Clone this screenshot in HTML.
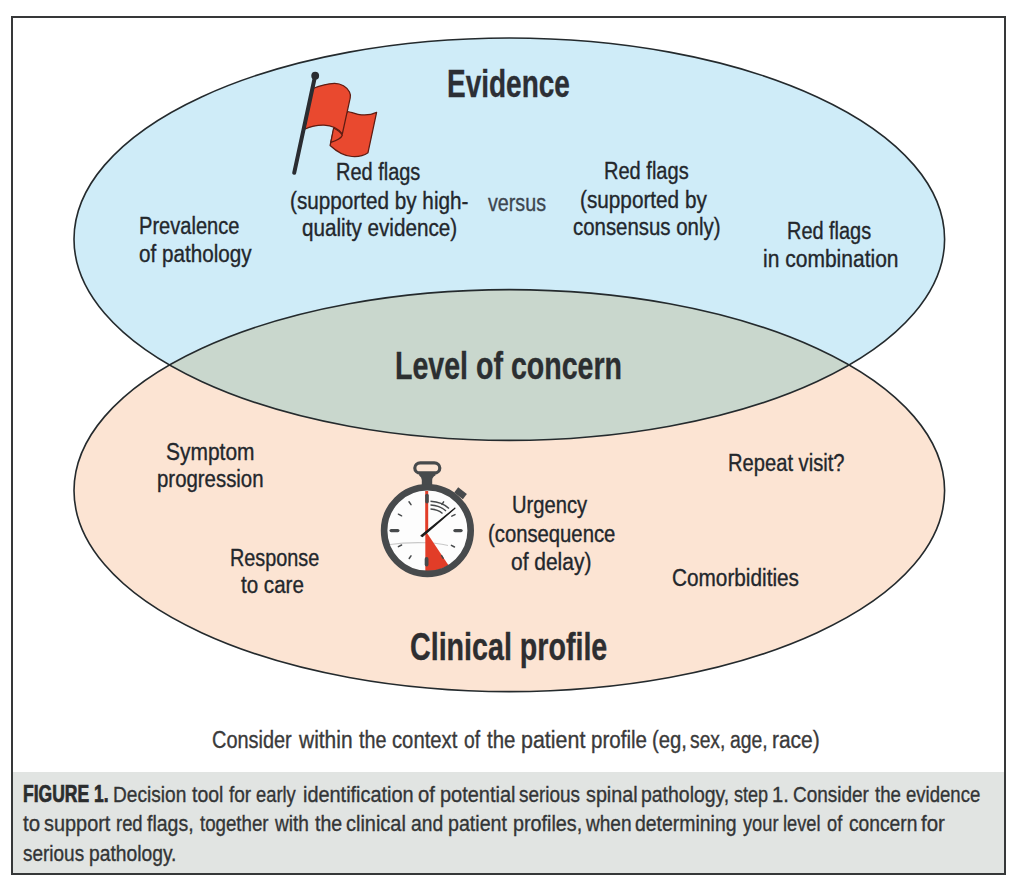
<!DOCTYPE html>
<html><head><meta charset="utf-8">
<style>
html,body{margin:0;padding:0;background:#fff;width:1022px;height:888px;overflow:hidden;}
body{position:relative;font-family:"Liberation Sans",sans-serif;}
.t{position:absolute;white-space:nowrap;transform-origin:0 0;font-family:"Liberation Sans",sans-serif;-webkit-text-stroke:0.35px currentColor;}
.t b{font-weight:700;}
#box{position:absolute;left:11px;top:16px;width:991px;height:855px;border:2px solid #363839;}
#capbg{position:absolute;left:13px;top:772px;width:991px;height:101px;background:#e1e4e2;}
svg{position:absolute;left:0;top:0;}
</style></head><body>
<div id="capbg"></div>
<div id="box"></div>
<svg width="1022" height="888" viewBox="0 0 1022 888">
<defs>
<clipPath id="cb"><ellipse cx="509.3" cy="239.2" rx="435.3" ry="201.2"/></clipPath>
</defs>
<ellipse cx="509.3" cy="490.6" rx="435.3" ry="201" fill="#fce4d3"/>
<ellipse cx="509.3" cy="239.2" rx="435.3" ry="201.2" fill="#cfecf8"/>
<ellipse cx="509.3" cy="490.6" rx="435.3" ry="201" fill="#c9d7cd" clip-path="url(#cb)"/>
<ellipse cx="509.3" cy="490.6" rx="435.3" ry="201" fill="none" stroke="#242a2d" stroke-width="1.6"/>
<ellipse cx="509.3" cy="239.2" rx="435.3" ry="201.2" fill="none" stroke="#242a2d" stroke-width="1.6"/>
<!-- FLAG -->
<g id="flag" stroke-linejoin="round">
<path d="M333.9,128.4 L330.1,145.5 C336,151 344,156 352,156.5 C358,157 364,155.5 368,152.7 L376.6,112.4 C371,115 364,115.5 358,114.3 C354,113.5 350.5,112 347.7,111.5 Z" fill="#e9492f" stroke="#5e1c12" stroke-width="1.25"/>
<path d="M333.6,128 C337.5,130 341,132.5 342.3,135.3 C341,139 336,140.8 330.8,142.4 Z" fill="#e9492f" stroke="#5e1c12" stroke-width="1.25"/>
<path d="M312.8,88.5 C319,86 327,83.5 334.4,83.3 C341,83.2 347,87 349.5,92 C350.5,94 350.6,96 350.2,98 L342.3,134 C338.5,129 332,125.5 324,125.2 C317,125 310,126.8 304.6,129.2 Z" fill="#e9492f" stroke="#5e1c12" stroke-width="1.25"/>
<line x1="315.1" y1="76" x2="294.2" y2="172.8" stroke="#2a2c31" stroke-width="4" stroke-linecap="round"/>
<circle cx="315.2" cy="75.7" r="3.9" fill="#2a2c31"/>
</g>
<!-- STOPWATCH -->
<g id="watch">
<rect x="414.8" y="462.8" width="25" height="10.4" rx="5.5" ry="5.2" fill="none" stroke="#474a4c" stroke-width="3.2"/>
<path d="M419.2,471.5 L435.4,471.5 L435.4,475.5 Q432.3,477 432.2,480 L432.2,487 L421.8,487 L421.8,480 Q421.7,477 419.2,475.5 Z" fill="#474a4c"/>
<rect x="455" y="490" width="11" height="6.5" fill="#474a4c" transform="rotate(38 460.5 493.3)"/>
<circle cx="427.4" cy="530.6" r="40.5" fill="#fdfdfd"/>
<path d="M388,544.8 C400,543 415,542.3 427,542.8 C437,543.2 444,544.5 448,545.5" fill="none" stroke="#c9c9c9" stroke-width="1.1"/>
<path d="M425.3,530.6 L425.3,571 A40.5,40.5 0 0 0 448.5,565.2 Z" fill="#e23d28"/>
<line x1="426.7" y1="491" x2="426.7" y2="532" stroke="#e23d28" stroke-width="3"/>
<g stroke="#474a4c" stroke-linecap="round">
<line x1="427" y1="495.6" x2="427" y2="501.8" stroke-width="3.6"/>
<line x1="426.6" y1="559" x2="426.6" y2="564.6" stroke-width="3.8"/>
<line x1="391.2" y1="530.6" x2="397.8" y2="530.6" stroke-width="3.4"/>
<line x1="455" y1="530.6" x2="461" y2="530.6" stroke-width="3.4"/>
</g>
<g stroke="#474a4c" stroke-width="1.5" stroke-linecap="round">
<line x1="409" y1="501.8" x2="411" y2="504.6"/>
<line x1="398.4" y1="514.2" x2="401.6" y2="515.8"/>
<line x1="398.4" y1="546.6" x2="401.6" y2="545"/>
<line x1="409.2" y1="558.5" x2="411" y2="555.8"/>
<line x1="443.2" y1="558.3" x2="441.6" y2="555.6"/>
<line x1="454.5" y1="547" x2="451.4" y2="545.3"/>
<line x1="455" y1="514.6" x2="451.8" y2="516.2"/>
<line x1="443.6" y1="501.8" x2="442" y2="504.4"/>
</g>
<g fill="none" stroke="#474a4c" stroke-width="1.4">
<path d="M430.5,501.2 C437.5,501.5 444.5,504 449,508.6"/>
<path d="M430.5,505 C436.5,505.3 442,507.3 446,511"/>
<path d="M430.5,509 C435.5,509.3 439.5,510.8 442.5,513.5"/>
</g>
<path d="M421,535.8 L454.9,508.2 L422.4,536.6 Z" fill="#1c1c1c" stroke="#1c1c1c" stroke-width="1.2" stroke-linejoin="round"/>
<circle cx="427.4" cy="530.6" r="43.3" fill="none" stroke="#474a4c" stroke-width="6.6"/>
</g>
</svg>
<div class="t" style="left:447.03px;top:64.50px;font-size:38px;line-height:38px;font-weight:700;color:#2c2f35;transform:scaleX(0.7366)">Evidence</div>
<div class="t" style="left:395.00px;top:346.80px;font-size:38px;line-height:38px;font-weight:700;color:#2c2f31;transform:scaleX(0.7517)">Level of concern</div>
<div class="t" style="left:410.05px;top:627.80px;font-size:38px;line-height:38px;font-weight:700;color:#2e2e30;transform:scaleX(0.7535)">Clinical profile</div>
<div class="t" style="left:336.40px;top:160.50px;font-size:23.5px;line-height:23.5px;font-weight:400;color:#23272c;transform:scaleX(0.8495)">Red flags</div>
<div class="t" style="left:289.92px;top:189.70px;font-size:23.5px;line-height:23.5px;font-weight:400;color:#23272c;transform:scaleX(0.8811)">(supported by high-</div>
<div class="t" style="left:302.12px;top:217.10px;font-size:23.5px;line-height:23.5px;font-weight:400;color:#23272c;transform:scaleX(0.8799)">quality evidence)</div>
<div class="t" style="left:487.60px;top:192.00px;font-size:23.5px;line-height:23.5px;font-weight:400;color:#3d4650;transform:scaleX(0.8377)">versus</div>
<div class="t" style="left:603.69px;top:160.30px;font-size:23.5px;line-height:23.5px;font-weight:400;color:#23272c;transform:scaleX(0.8526)">Red flags</div>
<div class="t" style="left:580.12px;top:189.00px;font-size:23.5px;line-height:23.5px;font-weight:400;color:#23272c;transform:scaleX(0.8825)">(supported by</div>
<div class="t" style="left:573.23px;top:216.20px;font-size:23.5px;line-height:23.5px;font-weight:400;color:#23272c;transform:scaleX(0.8685)">consensus only)</div>
<div class="t" style="left:138.99px;top:214.50px;font-size:23.5px;line-height:23.5px;font-weight:400;color:#23272c;transform:scaleX(0.8539)">Prevalence</div>
<div class="t" style="left:139.42px;top:243.30px;font-size:23.5px;line-height:23.5px;font-weight:400;color:#23272c;transform:scaleX(0.8787)">of pathology</div>
<div class="t" style="left:787.41px;top:220.40px;font-size:23.5px;line-height:23.5px;font-weight:400;color:#23272c;transform:scaleX(0.8474)">Red flags</div>
<div class="t" style="left:762.91px;top:248.10px;font-size:23.5px;line-height:23.5px;font-weight:400;color:#23272c;transform:scaleX(0.8946)">in combination</div>
<div class="t" style="left:165.61px;top:440.50px;font-size:23.5px;line-height:23.5px;font-weight:400;color:#23272c;transform:scaleX(0.8918)">Symptom</div>
<div class="t" style="left:156.73px;top:468.30px;font-size:23.5px;line-height:23.5px;font-weight:400;color:#23272c;transform:scaleX(0.8678)">progression</div>
<div class="t" style="left:229.91px;top:546.70px;font-size:23.5px;line-height:23.5px;font-weight:400;color:#23272c;transform:scaleX(0.8437)">Response</div>
<div class="t" style="left:241.00px;top:574.10px;font-size:23.5px;line-height:23.5px;font-weight:400;color:#23272c;transform:scaleX(0.8746)">to care</div>
<div class="t" style="left:512.38px;top:493.60px;font-size:23.5px;line-height:23.5px;font-weight:400;color:#23272c;transform:scaleX(0.8581)">Urgency</div>
<div class="t" style="left:487.64px;top:522.50px;font-size:23.5px;line-height:23.5px;font-weight:400;color:#23272c;transform:scaleX(0.8623)">(consequence</div>
<div class="t" style="left:510.71px;top:551.20px;font-size:23.5px;line-height:23.5px;font-weight:400;color:#23272c;transform:scaleX(0.8920)">of delay)</div>
<div class="t" style="left:728.18px;top:452.30px;font-size:23.5px;line-height:23.5px;font-weight:400;color:#23272c;transform:scaleX(0.8579)">Repeat visit?</div>
<div class="t" style="left:671.62px;top:566.70px;font-size:23.5px;line-height:23.5px;font-weight:400;color:#23272c;transform:scaleX(0.8838)">Comorbidities</div>
<div class="t" style="left:22.94px;top:782.50px;font-size:23px;line-height:23px;font-weight:700;color:#2b2d2e;-webkit-text-stroke:0.7px currentColor;transform:scaleX(0.7609)">FIGURE 1.</div>
<div class="t" style="left:212.45px;top:728.60px;font-size:23.5px;line-height:23.5px;font-weight:400;color:#3a3a3a;transform:scaleX(0.8473)">Consider</div>
<div class="t" style="left:299.10px;top:728.60px;font-size:23.5px;line-height:23.5px;font-weight:400;color:#3a3a3a;transform:scaleX(0.8915)">within</div>
<div class="t" style="left:359.20px;top:728.60px;font-size:23.5px;line-height:23.5px;font-weight:400;color:#3a3a3a;transform:scaleX(0.8406)">the</div>
<div class="t" style="left:391.74px;top:728.60px;font-size:23.5px;line-height:23.5px;font-weight:400;color:#3a3a3a;transform:scaleX(0.8613)">context</div>
<div class="t" style="left:463.68px;top:728.60px;font-size:23.5px;line-height:23.5px;font-weight:400;color:#3a3a3a;transform:scaleX(0.8211)">of</div>
<div class="t" style="left:486.80px;top:728.60px;font-size:23.5px;line-height:23.5px;font-weight:400;color:#3a3a3a;transform:scaleX(0.8688)">the</div>
<div class="t" style="left:521.12px;top:728.60px;font-size:23.5px;line-height:23.5px;font-weight:400;color:#3a3a3a;transform:scaleX(0.9122)">patient</div>
<div class="t" style="left:591.13px;top:728.60px;font-size:23.5px;line-height:23.5px;font-weight:400;color:#3a3a3a;transform:scaleX(0.8742)">profile</div>
<div class="t" style="left:651.64px;top:728.60px;font-size:23.5px;line-height:23.5px;font-weight:400;color:#3a3a3a;transform:scaleX(0.8632)">(eg,</div>
<div class="t" style="left:690.18px;top:728.60px;font-size:23.5px;line-height:23.5px;font-weight:400;color:#3a3a3a;transform:scaleX(0.8200)">sex,</div>
<div class="t" style="left:729.88px;top:728.60px;font-size:23.5px;line-height:23.5px;font-weight:400;color:#3a3a3a;transform:scaleX(0.8233)">age,</div>
<div class="t" style="left:772.11px;top:728.60px;font-size:23.5px;line-height:23.5px;font-weight:400;color:#3a3a3a;transform:scaleX(0.8902)">race)</div>
<div class="t" style="left:112.86px;top:783.50px;font-size:22px;line-height:22px;font-weight:400;color:#333536;transform:scaleX(0.8691)">Decision</div>
<div class="t" style="left:192.10px;top:783.50px;font-size:22px;line-height:22px;font-weight:400;color:#333536;transform:scaleX(0.8824)">tool</div>
<div class="t" style="left:228.70px;top:783.50px;font-size:22px;line-height:22px;font-weight:400;color:#333536;transform:scaleX(0.8640)">for</div>
<div class="t" style="left:256.07px;top:783.50px;font-size:22px;line-height:22px;font-weight:400;color:#333536;transform:scaleX(0.8340)">early</div>
<div class="t" style="left:303.00px;top:783.50px;font-size:22px;line-height:22px;font-weight:400;color:#333536;transform:scaleX(0.9042)">identification</div>
<div class="t" style="left:418.26px;top:783.50px;font-size:22px;line-height:22px;font-weight:400;color:#333536;transform:scaleX(0.9191)">of</div>
<div class="t" style="left:440.19px;top:783.50px;font-size:22px;line-height:22px;font-weight:400;color:#333536;transform:scaleX(0.9074)">potential</div>
<div class="t" style="left:519.34px;top:783.50px;font-size:22px;line-height:22px;font-weight:400;color:#333536;transform:scaleX(0.8609)">serious</div>
<div class="t" style="left:585.70px;top:783.50px;font-size:22px;line-height:22px;font-weight:400;color:#333536;transform:scaleX(0.8982)">spinal</div>
<div class="t" style="left:640.92px;top:783.50px;font-size:22px;line-height:22px;font-weight:400;color:#333536;transform:scaleX(0.8835)">pathology,</div>
<div class="t" style="left:733.65px;top:783.50px;font-size:22px;line-height:22px;font-weight:400;color:#333536;transform:scaleX(0.8191)">step</div>
<div class="t" style="left:772.22px;top:783.50px;font-size:22px;line-height:22px;font-weight:400;color:#333536;transform:scaleX(0.9191)">1.</div>
<div class="t" style="left:792.84px;top:783.50px;font-size:22px;line-height:22px;font-weight:400;color:#333536;transform:scaleX(0.8621)">Consider</div>
<div class="t" style="left:875.10px;top:783.50px;font-size:22px;line-height:22px;font-weight:400;color:#333536;transform:scaleX(0.8467)">the</div>
<div class="t" style="left:906.06px;top:783.50px;font-size:22px;line-height:22px;font-weight:400;color:#333536;transform:scaleX(0.8430)">evidence</div>
<div class="t" style="left:23.49px;top:813.30px;font-size:22px;line-height:22px;font-weight:400;color:#333536;transform:scaleX(0.9287)">to</div>
<div class="t" style="left:44.20px;top:813.30px;font-size:22px;line-height:22px;font-weight:400;color:#333536;transform:scaleX(0.9042)">support</div>
<div class="t" style="left:115.86px;top:813.30px;font-size:22px;line-height:22px;font-weight:400;color:#333536;transform:scaleX(0.8367)">red</div>
<div class="t" style="left:147.30px;top:813.30px;font-size:22px;line-height:22px;font-weight:400;color:#333536;transform:scaleX(0.8863)">flags,</div>
<div class="t" style="left:199.60px;top:813.30px;font-size:22px;line-height:22px;font-weight:400;color:#333536;transform:scaleX(0.8494)">together</div>
<div class="t" style="left:275.40px;top:813.30px;font-size:22px;line-height:22px;font-weight:400;color:#333536;transform:scaleX(0.8658)">with</div>
<div class="t" style="left:314.60px;top:813.30px;font-size:22px;line-height:22px;font-weight:400;color:#333536;transform:scaleX(0.8867)">the</div>
<div class="t" style="left:346.09px;top:813.30px;font-size:22px;line-height:22px;font-weight:400;color:#333536;transform:scaleX(0.9062)">clinical</div>
<div class="t" style="left:411.13px;top:813.30px;font-size:22px;line-height:22px;font-weight:400;color:#333536;transform:scaleX(0.8743)">and</div>
<div class="t" style="left:448.31px;top:813.30px;font-size:22px;line-height:22px;font-weight:400;color:#333536;transform:scaleX(0.8923)">patient</div>
<div class="t" style="left:512.60px;top:813.30px;font-size:22px;line-height:22px;font-weight:400;color:#333536;transform:scaleX(0.8986)">profiles,</div>
<div class="t" style="left:585.80px;top:813.30px;font-size:22px;line-height:22px;font-weight:400;color:#333536;transform:scaleX(0.8667)">when</div>
<div class="t" style="left:635.02px;top:813.30px;font-size:22px;line-height:22px;font-weight:400;color:#333536;transform:scaleX(0.8832)">determining</div>
<div class="t" style="left:742.53px;top:813.30px;font-size:22px;line-height:22px;font-weight:400;color:#333536;transform:scaleX(0.8287)">your</div>
<div class="t" style="left:783.40px;top:813.30px;font-size:22px;line-height:22px;font-weight:400;color:#333536;transform:scaleX(0.8287)">level</div>
<div class="t" style="left:827.46px;top:813.30px;font-size:22px;line-height:22px;font-weight:400;color:#333536;transform:scaleX(0.8287)">of</div>
<div class="t" style="left:848.63px;top:813.30px;font-size:22px;line-height:22px;font-weight:400;color:#333536;transform:scaleX(0.8737)">concern</div>
<div class="t" style="left:921.09px;top:813.30px;font-size:22px;line-height:22px;font-weight:400;color:#333536;transform:scaleX(0.9287)">for</div>
<div class="t" style="left:23.04px;top:843.20px;font-size:22px;line-height:22px;font-weight:400;color:#333536;transform:scaleX(0.8623)">serious</div>
<div class="t" style="left:89.12px;top:843.20px;font-size:22px;line-height:22px;font-weight:400;color:#333536;transform:scaleX(0.8753)">pathology.</div>
</body></html>
